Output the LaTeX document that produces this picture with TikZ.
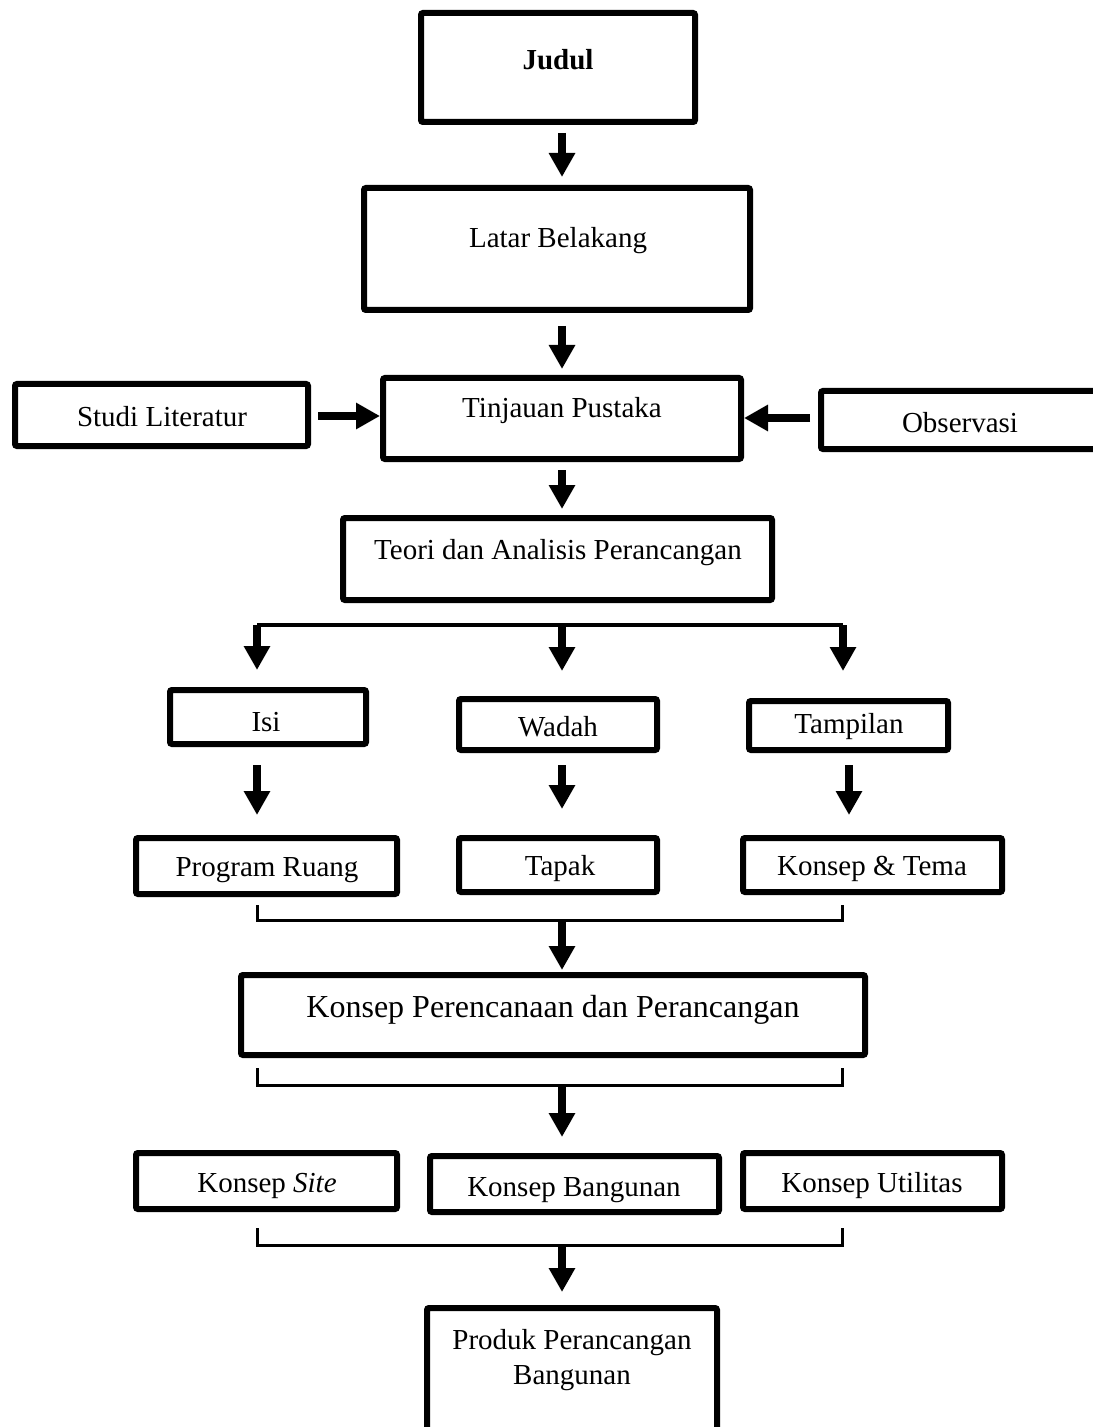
\documentclass[tikz,border=0pt]{standalone}
\usepackage{fontspec}
\setmainfont{Liberation Serif}
\usetikzlibrary{arrows.meta}
\begin{document}
\begin{tikzpicture}[x=0.5pt,y=-0.5pt,
  box/.style={draw, line width=3pt, rounded corners=1pt, inner sep=0pt, anchor=center},
  txt/.style={inner sep=0pt, anchor=center, yshift=-1.5pt, font=\fontsize{14.5}{17}\selectfont, align=center},
  conn/.style={line width=3.8pt, -{Triangle[width=12.5pt,length=12pt]}},
  brk/.style={line width=1.5pt},
  brl/.style={line width=2pt}]
\useasboundingbox (0,0) rectangle (1092,1427);
% boxes
\node[box, minimum width=137pt, minimum height=54.5pt] (judul) at (558,67.5) {};
\node[txt] (judult) at (558,57) {\textbf{Judul}};
\node[box, minimum width=193pt, minimum height=61pt] (latar) at (557,249) {};
\node[txt] (latart) at (558,238) {Latar Belakang};
\node[box, minimum width=179pt, minimum height=40.5pt] (tinj) at (562,418.5) {};
\node[txt] (tinjt) at (562,408) {Tinjauan Pustaka};
\node[box, minimum width=146.5pt, minimum height=31pt] (studi) at (161.5,415) {};
\node[txt] (studit) at (162,414) {Studi Literatur};
\node[box, minimum width=138pt, minimum height=29pt] (obs) at (959,420) {};
\node[txt] (obst) at (960,420) {Observasi};
\node[box, minimum width=214.5pt, minimum height=41pt] (teori) at (557.5,559) {};
\node[txt] (teorit) at (558,550) {Teori dan Analisis Perancangan};
\node[box, minimum width=98pt, minimum height=27pt] (isi) at (268,717) {};
\node[txt] (isit) at (266,719) {Isi};
\node[box, minimum width=99pt, minimum height=25.5pt] (wadah) at (558,724.5) {};
\node[txt] (wadaht) at (558,724) {Wadah};
\node[box, minimum width=99.5pt, minimum height=24.5pt] (tamp) at (848.5,725.5) {};
\node[txt] (tampt) at (849,724) {Tampilan};
\node[box, minimum width=130.5pt, minimum height=28pt] (prog) at (266.5,866) {};
\node[txt] (progt) at (267,867) {Program Ruang};
\node[box, minimum width=99pt, minimum height=27pt] (tapak) at (558,865) {};
\node[txt] (tapakt) at (560,866) {Tapak};
\node[box, minimum width=129.5pt, minimum height=27pt] (ktema) at (872.5,865) {};
\node[txt] (ktemat) at (872,866) {Konsep \& Tema};
\node[box, minimum width=312pt, minimum height=40pt] (kpp) at (553,1015) {};
\node[txt, font=\fontsize{16}{19}\selectfont] (kppt) at (553,1007) {Konsep Perencanaan dan Perancangan};
\node[box, minimum width=130.5pt, minimum height=28pt] (ksite) at (266.5,1181) {};
\node[txt] (ksitet) at (267,1183) {Konsep \textit{Site}};
\node[box, minimum width=144.5pt, minimum height=28pt] (kbang) at (574.5,1184) {};
\node[txt] (kbangt) at (574,1187) {Konsep Bangunan};
\node[box, minimum width=129.5pt, minimum height=28pt] (kutil) at (872.5,1181) {};
\node[txt] (kutilt) at (872,1183) {Konsep Utilitas};
\node[box, minimum width=145pt, minimum height=64.5pt] (produk) at (572,1372.5) {};
\node[txt, font=\fontsize{14.5}{17.5}\selectfont] (produkt) at (572,1357) {Produk Perancangan\\Bangunan};
% coordinates
\coordinate (ax) at (562,0);
\coordinate (bl) at (257,625);
\coordinate (bm) at (562,625);
\coordinate (br) at (843,625);
% main arrows
\draw[conn, shorten <=4pt, shorten >=4pt] (judul.south -| ax) -- (latar.north -| ax);
\draw[conn, shorten <=6.5pt, shorten >=3pt] (latar.south -| ax) -- (tinj.north -| ax);
\draw[conn, shorten <=3.5pt, shorten >=0pt] (studi.east |- 0,416) -- (tinj.west |- 0,416);
\draw[conn, shorten <=4pt, shorten >=0pt] (obs.west |- 0,418) -- (tinj.east |- 0,418);
\draw[conn, shorten <=4pt, shorten >=3pt] (tinj.south -| ax) -- (teori.north -| ax);
% branch
\draw[brl] (bl) -- (br);
\draw[conn, shorten >=8.5pt] (bl) -- (isi.north -| bl);
\draw[conn, shorten >=12.5pt] (bm) -- (wadah.north -| bm);
\draw[conn, shorten >=13.5pt] (br) -- (tamp.north -| br);
\draw[conn, shorten <=9pt, shorten >=10pt] (isi.south -| bl) -- (prog.north -| bl);
\draw[conn, shorten <=6pt, shorten >=13pt] (wadah.south -| ax) -- (tapak.north -| ax);
\draw[conn, shorten <=6pt, shorten >=10pt] (tamp.south -| 849,0) -- (ktema.north -| 849,0);
% bracket 1
\coordinate (k1l) at (257,905);
\coordinate (k1r) at (842,905);
\coordinate (k1m) at (562,920);
\draw[brk] (k1l) -- (257,920) -- (842,920) -- (k1r);
\draw[conn] (k1m) -- ([yshift=1pt]kpp.north -| k1m);
% bracket 2
\coordinate (k2l) at (257,1068);
\coordinate (k2r) at (842,1068);
\coordinate (k2m) at (562,1085);
\draw[brk] (k2l) -- (257,1085) -- (842,1085) -- (k2r);
\draw[conn, shorten >=8pt] (k2m) -- (kbang.north -| k2m);
% bracket 3
\coordinate (k3l) at (257,1228);
\coordinate (k3r) at (842,1228);
\coordinate (k3m) at (562,1245);
\draw[brk] (k3l) -- (257,1245) -- (842,1245) -- (k3r);
\draw[conn, shorten >=6.5pt] (k3m) -- (produk.north -| k3m);
\end{tikzpicture}
\end{document}
